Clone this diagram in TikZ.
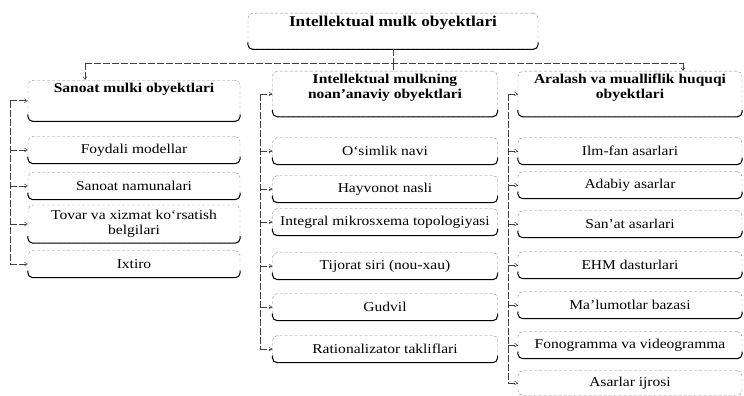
\documentclass[tikz,border=0pt]{standalone}
\usepackage{fontspec}
\setmainfont[FakeStretch=1.15]{Liberation Serif}
\usepackage{tikz}
\usetikzlibrary{arrows.meta,calc}
\newcommand{\linecolor}{black!75}
\newcommand{\edgecolor}{black!45}
\newcommand{\corner}{5pt}
\newcommand{\lip}{7pt}

\begin{document}
\begin{tikzpicture}[x=1pt,y=-1pt,
  every node/.style={font=\fontsize{13.5}{15}\selectfont},
  item/.style={draw=\edgecolor, densely dashed, rounded corners=\corner, minimum height=27pt, align=center, inner xsep=2pt, inner ysep=3pt},
  head/.style={item, font=\fontsize{13.5}{15}\selectfont\bfseries, anchor=north},
  base/.style={black, solid, line width=1pt, rounded corners=\corner},
  link/.style={\linecolor, dash pattern=on 7pt off 2pt, line width=0.5pt},
  tip/.style={link, -{Straight Barb[length=3pt,width=4pt]}}]
\useasboundingbox (0,0) rectangle (744,396);
%top
\node[head, font=\fontsize{15}{17}\selectfont\bfseries, minimum width=290pt, text height=10pt, text depth=20pt] (top) at (393,13) {Intellektual mulk obyektlari};
%headers
\node[head, minimum width=212pt, text height=9pt, text depth=26pt] (lhead) at (134,80) {Sanoat mulki obyektlari};
\node[head, minimum width=225pt] (mhead) at (385,71) {Intellektual mulkning\\noan’anaviy obyektlari\\\rule{0pt}{11pt}};
\node[head, minimum width=224pt] (rhead) at (630,71) {Aralash va mualliflik huquqi\\obyektlari\\\rule{0pt}{11pt}};
%left
\node[item, minimum width=212pt] (lfoy) at (134,150) {Foydali modellar};
\node[item, minimum width=212pt] (lsan) at (134,186) {Sanoat namunalari};
\node[item, minimum width=212pt, minimum height=38pt] (ltov) at (134,224) {Tovar va xizmat ko‘rsatish\\belgilari};
\node[item, minimum width=212pt] (lix) at (134,264) {Ixtiro};
%middle
\node[item, minimum width=225pt] (msim) at (385,151) {O‘simlik navi};
\node[item, minimum width=225pt] (mhay) at (385,189) {Hayvonot nasli};
\node[item, minimum width=225pt] (mint) at (385,222) {Integral mikrosxema topologiyasi};
\node[item, minimum width=225pt] (mtij) at (385,266) {Tijorat siri (nou-xau)};
\node[item, minimum width=225pt] (mgud) at (385,307) {Gudvil};
\node[item, minimum width=225pt] (mrat) at (385,349) {Rationalizator takliflari};
%right
\node[item, minimum width=224pt] (rilm) at (630,151) {Ilm-fan asarlari};
\node[item, minimum width=224pt] (rada) at (630,185) {Adabiy asarlar};
\node[item, minimum width=224pt] (rsan) at (630,224) {San’at asarlari};
\node[item, minimum width=224pt] (rehm) at (630,265) {EHM dasturlari};
\node[item, minimum width=224pt] (rmal) at (630,305) {Ma’lumotlar bazasi};
\node[item, minimum width=224pt] (rfon) at (630,345) {Fonogramma va videogramma};
\node[item, minimum width=224pt, minimum height=25pt] (rasa) at (630,383) {Asarlar ijrosi};
%bottom edges
\foreach \n in {top,lhead,mhead,rhead,lfoy,lsan,ltov,lix,msim,mhay,mint,mtij,mgud,mrat,rilm,rada,rsan,rehm,rmal,rfon}
  \draw[base] ([yshift=\lip]\n.south west) |- (\n.south east) -- ([yshift=\lip]\n.south east);
%bus
\coordinate (bus) at (393,63);
\coordinate (lbus) at (85,63);
\coordinate (rbus) at (683,63);
\draw[link] (top.south) -- (bus);
\draw[link] (lbus) -- (rbus);
\draw[link] (bus) -- (bus |- mhead.north);
\draw[tip] (lbus) -- (lbus |- lhead.north);
\draw[tip] (rbus) -- (rbus |- rhead.north);
%spines
\coordinate (lspine) at (10,0);
\coordinate (mspine) at (260,0);
\coordinate (rspine) at (508,0);
\draw[link] (lspine |- lhead.west) -- (lspine |- lix.west);
\draw[link] (mspine |- mhead.west) -- (mspine |- mrat.west);
\draw[link] (rspine |- rhead.west) -- (rspine |- rasa.west);
\foreach \n in {lhead,lfoy,lsan,ltov,lix}
  \draw[tip] (lspine |- \n.west) -- (\n.west);
\foreach \n in {mhead,msim,mhay,mint,mtij,mgud,mrat}
  \draw[tip] (mspine |- \n.west) -- (\n.west);
\foreach \n in {rhead,rilm,rada,rsan,rehm,rmal,rfon,rasa}
  \draw[tip] (rspine |- \n.west) -- (\n.west);
\end{tikzpicture}
\end{document}
